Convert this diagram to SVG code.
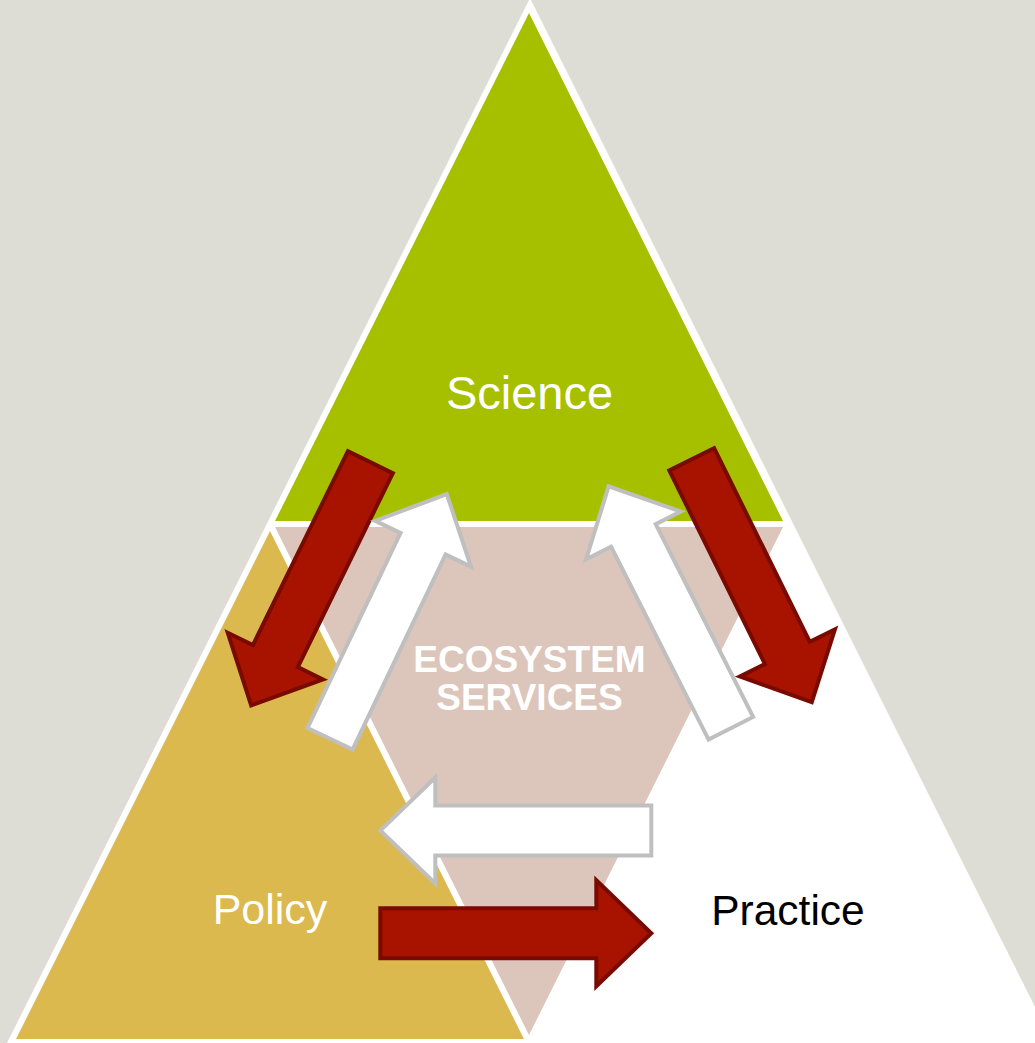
<svg xmlns="http://www.w3.org/2000/svg" xmlns:xlink="http://www.w3.org/1999/xlink" width="1035" height="1043" viewBox="0 0 1035 1043">
<style>
.red{fill:#A81300;stroke:#780A00;stroke-width:4;stroke-linejoin:miter}
.wht{fill:#FFFFFF;stroke:#BFBFBF;stroke-width:4;stroke-linejoin:miter}
.lbl{font-family:"Liberation Sans",Arial,sans-serif;text-anchor:middle}
</style>
<defs>
<path id="arr" d="M0,-25 H216 V-53 L271,0 L216,53 V25 H0 Z"/>
</defs>
<rect width="1035" height="1043" fill="#DDDCD5"/>
<polygon points="530,-2 7,1043 1053,1043" fill="#FFFFFF"/>
<g id="science">
<polygon points="529,13 275,521 783,521" fill="#A6C000"/>
<text class="lbl" x="529.5" y="409" font-size="47" fill="#FFFFFF">Science</text>
</g>
<g id="ecosystem-services">
<polygon points="275,527 783,527 529,1035" fill="#DCC5BA"/>
<text class="lbl" x="529.5" y="672" font-size="37" font-weight="bold" fill="#FFFFFF">ECOSYSTEM</text>
<text class="lbl" x="529.5" y="710" font-size="37" font-weight="bold" fill="#FFFFFF">SERVICES</text>
</g>
<g id="policy">
<polygon points="270,531 16,1039 524,1039" fill="#DCB94E"/>
<text class="lbl" x="270" y="924" font-size="43" fill="#FFFFFF">Policy</text>
</g>
<g id="practice">
<text class="lbl" x="788" y="925" font-size="42.5" fill="#000000">Practice</text>
</g>
<g id="connectors">
<use xlink:href="#arr" class="red" transform="translate(370.4,462.1) rotate(116.1)"/>
<use xlink:href="#arr" class="red" transform="translate(691.7,459.3) rotate(63.7)"/>
<use xlink:href="#arr" class="red" transform="translate(380.3,933.3)"/>
<use xlink:href="#arr" class="wht" transform="translate(330.1,738.7) rotate(-64.5)"/>
<use xlink:href="#arr" class="wht" transform="translate(730.8,728.2) rotate(-116.8)"/>
<use xlink:href="#arr" class="wht" transform="translate(651.3,830.5) rotate(180)"/>
</g>
</svg>
